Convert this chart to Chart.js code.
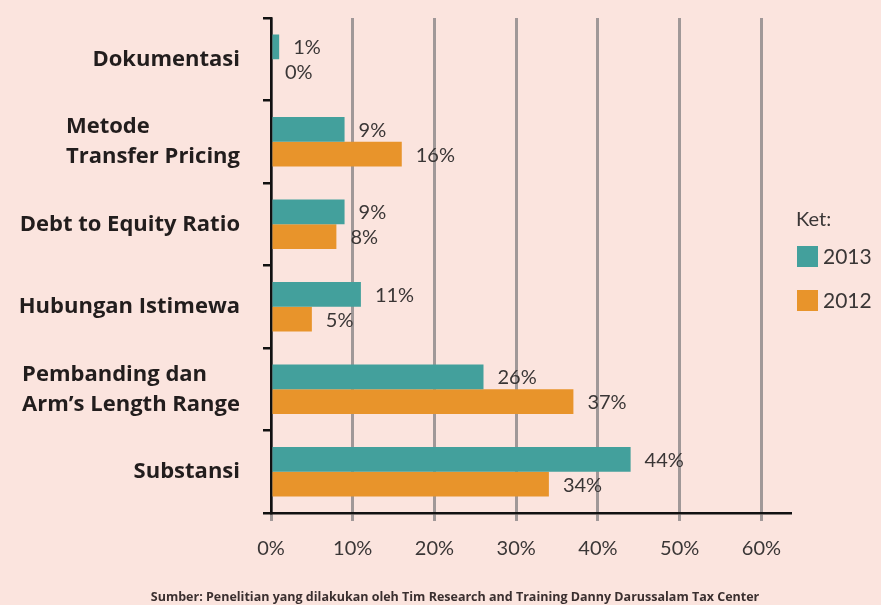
<!DOCTYPE html>
<html>
<head>
<meta charset="utf-8">
<script src="https://cdn.jsdelivr.net/npm/chart.js@4/dist/chart.umd.min.js"></script>
<style>
  html, body { margin: 0; padding: 0; background: #fbe4de; }
  #wrap { width: 881px; height: 605px; position: relative; }
</style>
</head>
<body>
<div id="wrap"><canvas id="c" width="881" height="605"></canvas></div>
<script>
const categories = [
  "Dokumentasi",
  ["Metode", "Transfer Pricing"],
  "Debt to Equity Ratio",
  "Hubungan Istimewa",
  ["Pembanding dan", "Arm\u2019s Length Range"],
  "Substansi"
];
const values2013 = [1, 9, 9, 11, 26, 44];
const values2012 = [0, 16, 8, 5, 37, 34];
const seriesNames = ["2013", "2012"];
const xTickValues = [0, 10, 20, 30, 40, 50, 60];
const legendTitle = "Ket:";
const sourceNote = "Sumber: Penelitian yang dilakukan oleh Tim Research and Training Danny Darussalam Tax Center";

const TEAL = "#43a09c";
const ORANGE = "#e8942b";
const TEXT = "#3a3636";

const bgPlugin = {
  id: "bg",
  beforeDraw(chart) {
    const ctx = chart.ctx;
    ctx.save();
    ctx.fillStyle = "#fbe4de";
    ctx.fillRect(0, 0, chart.width, chart.height);
    ctx.restore();
  }
};

const labelPlugin = {
  id: "valueLabels",
  afterDatasetsDraw(chart) {
    const ctx = chart.ctx;
    ctx.save();
    ctx.font = "20px Lato";
    ctx.fillStyle = TEXT;
    ctx.textAlign = "left";
    ctx.textBaseline = "middle";
    chart.data.datasets.forEach((ds, di) => {
      const meta = chart.getDatasetMeta(di);
      meta.data.forEach((bar, i) => {
        ctx.fillText(ds.data[i] + "%", bar.x + 14, bar.y + 1);
      });
    });
    ctx.restore();
  }
};

const categoryLabelPlugin = {
  id: "categoryLabels",
  afterDraw(chart) {
    const ctx = chart.ctx;
    const y = chart.scales.y;
    const right = 240;
    const lh = 30;
    ctx.save();
    ctx.font = "bold 22px 'Open Sans'";
    ctx.fillStyle = "#221d1d";
    ctx.textBaseline = "middle";
    chart.data.labels.forEach((lab, i) => {
      const cy = y.getPixelForValue(i);
      if (Array.isArray(lab)) {
        const w = Math.max(...lab.map(l => ctx.measureText(l).width));
        ctx.textAlign = "left";
        const y0 = cy - (lab.length - 1) * lh / 2;
        lab.forEach((l, k) => ctx.fillText(l, right - w, y0 + k * lh));
      } else {
        ctx.textAlign = "right";
        ctx.fillText(lab, right, cy);
      }
    });
    ctx.restore();
  }
};

const legendPlugin = {
  id: "sideLegend",
  afterDraw(chart) {
    const ctx = chart.ctx;
    ctx.save();
    ctx.font = "20px Lato";
    ctx.fillStyle = TEXT;
    ctx.textBaseline = "middle";
    ctx.textAlign = "left";
    ctx.fillText(legendTitle, 796, 220);
    chart.data.datasets.forEach((ds, di) => {
      const yy = 256 + di * 44;
      ctx.fillStyle = ds.backgroundColor;
      ctx.fillRect(797, yy - 10, 21, 21);
      ctx.fillStyle = TEXT;
      ctx.font = "21px Lato";
      ctx.fillText(ds.label, 823, yy + 1);
    });
    ctx.font = "bold 12.5px 'Open Sans'";
    ctx.textAlign = "center";
    ctx.fillStyle = "#3a2f2f";
    ctx.fillText(sourceNote, 455, 597);
    ctx.restore();
  }
};

new Chart(document.getElementById("c"), {
  type: "bar",
  data: {
    labels: categories,
    datasets: [
      { label: seriesNames[0], data: values2013, backgroundColor: TEAL },
      { label: seriesNames[1], data: values2012, backgroundColor: ORANGE }
    ]
  },
  options: {
    indexAxis: "y",
    responsive: false,
    animation: false,
    devicePixelRatio: 1,
    layout: { padding: { top: 18, right: 91, bottom: 35, left: 0 } },
    datasets: { bar: { categoryPercentage: 0.6, barPercentage: 1.0, borderWidth: 0 } },
    plugins: {
      legend: { display: false },
      tooltip: { enabled: false }
    },
    scales: {
      x: {
        min: 0,
        max: 63.5,
        afterBuildTicks(scale) { scale.ticks = xTickValues.map(v => ({ value: v })); },
        afterFit(scale) { scale.height = 57; },
        ticks: {
          padding: 16,
          color: TEXT,
          font: { family: "Lato", size: 20 },
          callback: (v) => v + "%"
        },
        grid: { color: "#a09898", lineWidth: 3, tickLength: 8, drawTicks: true },
        border: { display: true, color: "#111", width: 2.5 }
      },
      y: {
        afterFit(scale) { scale.width = 271; },
        ticks: { display: false },
        grid: { drawOnChartArea: false, drawTicks: true, tickLength: 8, color: "#111", lineWidth: 2.5 },
        border: { display: true, color: "#111", width: 2.5 }
      }
    }
  },
  plugins: [bgPlugin, labelPlugin, categoryLabelPlugin, legendPlugin]
});
</script>
</body>
</html>
